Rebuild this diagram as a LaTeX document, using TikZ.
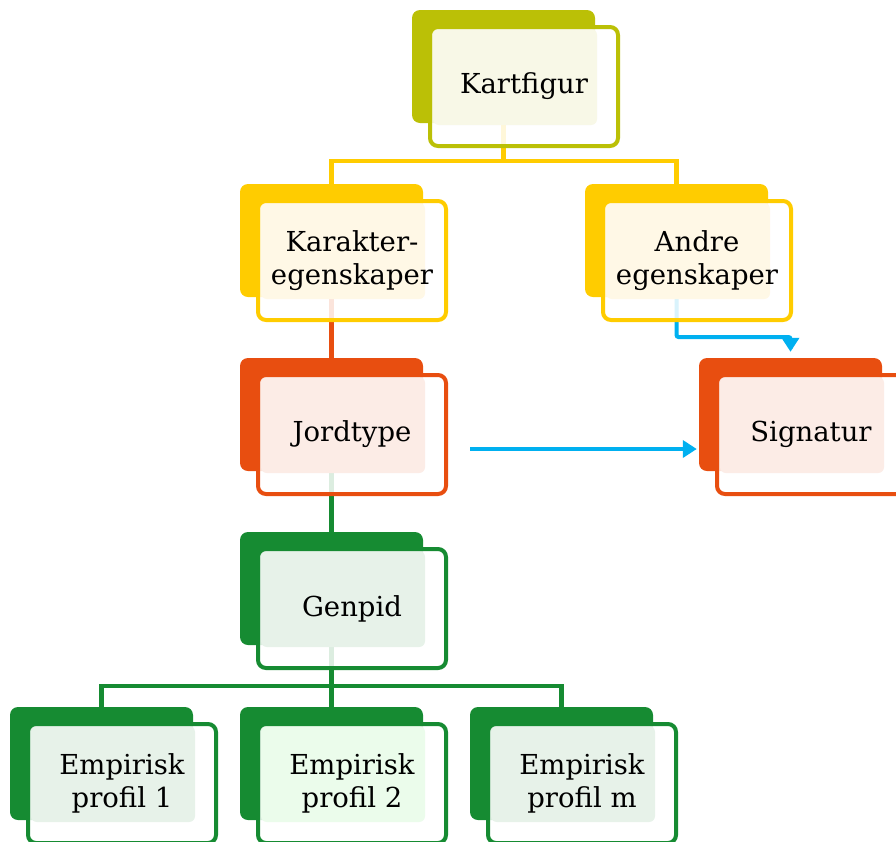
\documentclass[tikz,border=0pt]{standalone}
\usepackage{fontspec}
\setmainfont{DejaVu Serif}
\usetikzlibrary{arrows.meta}
\definecolor{olive}{RGB}{187,192,6}
\definecolor{olivelt}{RGB}{248,248,231}
\definecolor{yel}{RGB}{255,204,0}
\definecolor{yellt}{RGB}{255,248,230}
\definecolor{org}{RGB}{232,78,16}
\definecolor{orglt}{RGB}{252,236,230}
\definecolor{grn}{RGB}{22,139,50}
\definecolor{grnlt}{RGB}{231,242,233}
\definecolor{grnlttwo}{RGB}{235,252,235}
\definecolor{blu}{RGB}{0,176,240}
\pgfdeclarelayer{backrect}
\pgfdeclarelayer{conn}
\pgfdeclarelayer{boxfill}
\pgfsetlayers{backrect,conn,boxfill,main}
\tikzset{
  backbox/.style={rectangle, rounded corners=8pt, minimum width=183pt, minimum height=113pt, inner sep=0pt},
  frontbox/.style={rectangle, rounded corners=8pt, minimum width=188pt, minimum height=119pt, inner sep=0pt, line width=4pt, align=center, font=\fontsize{27.5pt}{33pt}\selectfont},
  conn/.style={line width=4.5pt},
  vconn/.style={line width=5.5pt},
  barrow/.style={line width=4pt, blu, -{Triangle[width=17pt,length=14pt]}},
}
\newcommand\mybox[6]{%
  \begin{pgfonlayer}{backrect}
    \node[backbox, fill=#4] (#1B) at (#2+91.5,#3+56.5) {};
  \end{pgfonlayer}
  \begin{pgfonlayer}{boxfill}
    \fill[white, opacity=0.85, rounded corners=8pt] (#2+18,#3+17) rectangle ++(188,119);
    \fill[#5, rounded corners=6pt] (#2+21,#3+19) rectangle ++(164,96);
  \end{pgfonlayer}
  \node[frontbox, draw=#4] (#1) at (#2+112,#3+76.5) {#6};
}
\begin{document}
\begin{tikzpicture}[x=1pt,y=-1pt]
\useasboundingbox (0,0) rectangle (896,841);
\mybox{kart}{412}{10}{olive}{olivelt}{Kartfigur}
\mybox{kar}{240}{184}{yel}{yellt}{Karakter-\\egenskaper}
\mybox{andre}{585}{184}{yel}{yellt}{Andre\\egenskaper}
\mybox{jord}{240}{358}{org}{orglt}{Jordtype}
\mybox{sig}{699}{358}{org}{orglt}{Signatur}
\mybox{gen}{240}{532}{grn}{grnlt}{Genpid}
\mybox{pa}{10}{707}{grn}{grnlt}{Empirisk\\profil 1}
\mybox{pb}{240}{707}{grn}{grnlttwo}{Empirisk\\profil 2}
\mybox{pm}{470}{707}{grn}{grnlt}{Empirisk\\profil m}
\coordinate (row1) at (0,161);
\coordinate (row2) at (0,686);
\coordinate (row3) at (0,337);
\coordinate (jsig) at (470,449);
\begin{pgfonlayer}{conn}
  \draw[conn, yel] (kartB.center) -- (kartB.center |- row1) -| (karB.center);
  \draw[conn, yel] (kartB.center |- row1) -| (andreB.center);
  \draw[vconn, org] (karB.center) -- (jordB.center);
  \draw[vconn, grn] (jordB.center) -- (genB.center);
  \draw[conn, grn] (genB.center) -- (genB.center |- row2) -| (paB.center);
  \draw[conn, grn] (genB.center |- row2) -| (pmB.center);
  \draw[conn, grn] (genB.center |- row2) -- (pbB.center);
  \draw[barrow, rounded corners=2pt] (andreB.center) -- (andreB.center |- row3) -| ([yshift=6pt]sigB.north);
  \draw[barrow] (jsig) -- ([xshift=-2pt]jsig -| sigB.west);
\end{pgfonlayer}
\end{tikzpicture}
\end{document}
